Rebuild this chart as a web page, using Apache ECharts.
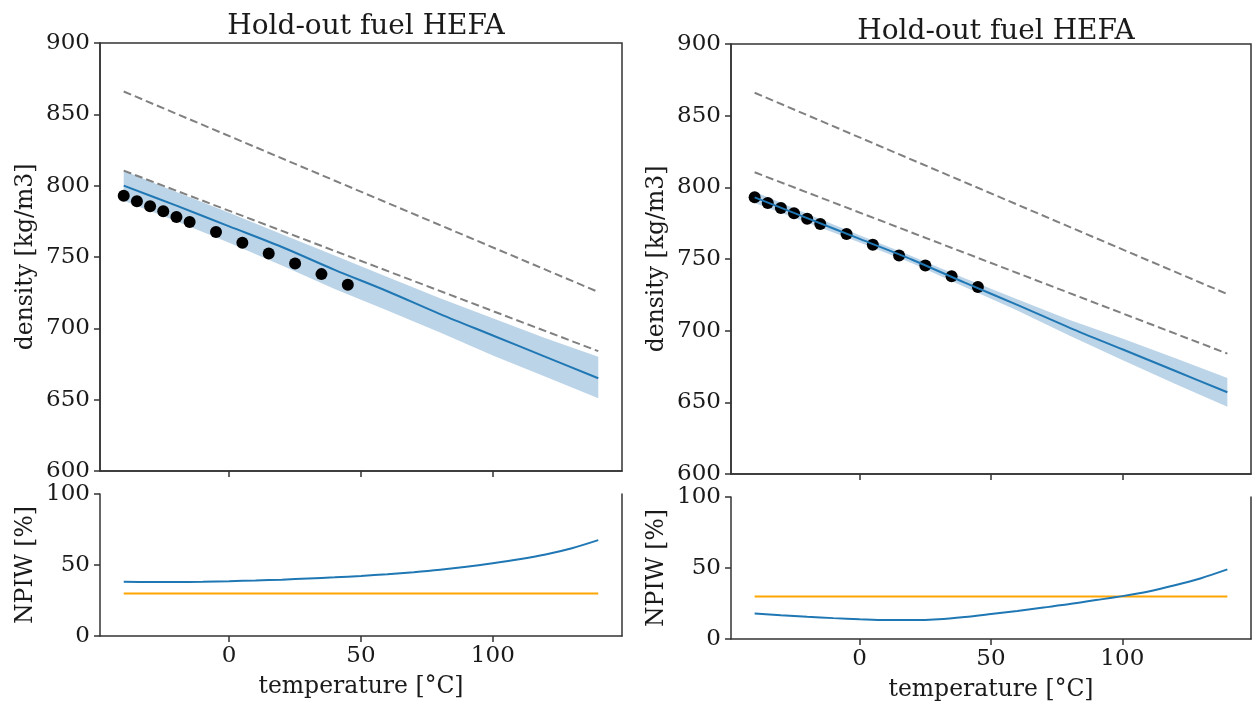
<!DOCTYPE html>
<html>
<head>
<meta charset="utf-8">
<script src="https://cdn.jsdelivr.net/npm/echarts@6/dist/echarts.min.js"></script>
<style>
  html, body { margin: 0; padding: 0; background: #ffffff; }
  #chart { width: 1255px; height: 704px; }
</style>
</head>
<body>
<div id="chart"></div>
<script>
// ---------------- data ----------------
const titleText = 'Hold-out fuel HEFA';
const xTicks = [0, 50, 100];

// measured points (same in both panels)
const measTemps = [-40, -35, -30, -25, -20, -15, -5, 5, 15, 25, 35, 45];
const measDensity = [793, 789, 785.5, 782, 778, 774.5, 767.5, 760, 752.5, 745.5, 738, 730.5];

// reference (dashed) lines
const refTemps = [-40, 140];
const refUpper = [866, 725.5];
const refLower = [810.5, 684];

// prediction curves
const predTemps = [-40, -20, 0, 20, 40, 60, 80, 100, 120, 140];
const leftPred  = [800, 786, 771.5, 757, 741, 726, 710, 695, 680, 665];
const leftUpper = [810.5, 795.5, 781, 766, 751, 736, 721, 707, 693, 680];
const leftLower = [789.5, 775, 760, 744, 727.5, 712.5, 697, 681, 666, 651];

const rightPred  = [793, 778.5, 764, 749.5, 733.5, 718, 702, 687, 672, 657];
const rightUpper = [797, 781.5, 766.5, 752, 736.5, 722, 707.5, 694.5, 681, 667];
const rightLower = [789, 775.5, 761.5, 747, 730.5, 714, 696.5, 679.5, 663, 647];

// NPIW
const npiwTemps = [-40, -30, -20, -10, 0, 10, 20, 30, 40, 50, 60, 70, 80, 90, 100, 110, 120, 130, 140];
const leftNpiw  = [38.2, 38.0, 38.0, 38.2, 38.6, 39.1, 39.7, 40.5, 41.3, 42.3, 43.5, 44.9, 46.6, 48.7, 51.2, 54.0, 57.4, 61.8, 67.5];
const rightNpiw = [18.0, 16.8, 15.7, 14.7, 13.9, 13.3, 13.3, 13.9, 15.5, 17.6, 19.8, 22.2, 24.6, 27.4, 30.2, 33.5, 37.8, 42.8, 49.0];
const targetTemps = [-40, 140];
const targetNpiw = [30, 30];

// ---------------- helpers ----------------
const zip = (xs, ys) => xs.map((x, i) => [x, ys[i]]);
const FONT = 'DejaVu Serif';
const TXT = '#1a1a1a';
const AX = '#333333';
const BLUE = '#1f77b4';
const BAND = '#bcd4e8';
const TICKFS = 23;
const NAMEFS = 23.5;

function xAxisDef(gridIndex, withLabels) {
  return {
    type: 'value', gridIndex, min: -49, max: 149,
    splitLine: { show: false },
    axisLine: { show: true, onZero: false, lineStyle: { color: AX, width: 1.5 } },
    axisTick: { show: true, inside: false, length: 6, customValues: xTicks, lineStyle: { color: AX, width: 1.5 } },
    axisLabel: { show: withLabels, customValues: xTicks, margin: 9, fontFamily: FONT, fontSize: TICKFS, color: TXT },
    name: withLabels ? 'temperature [°C]' : '',
    nameLocation: 'middle', nameGap: 39,
    nameTextStyle: { fontFamily: FONT, fontSize: NAMEFS, color: TXT }
  };
}
function yAxisDef(gridIndex, min, max, interval, name) {
  return {
    type: 'value', gridIndex, min, max, interval,
    splitLine: { show: false },
    axisLine: { show: true, onZero: false, lineStyle: { color: AX, width: 1.5 } },
    axisTick: { show: true, inside: false, length: 6, lineStyle: { color: AX, width: 1.5 } },
    axisLabel: { margin: 10, fontFamily: FONT, fontSize: TICKFS, color: TXT },
    name, nameLocation: 'middle', nameGap: 62, nameRotate: 90,
    nameTextStyle: { fontFamily: FONT, fontSize: NAMEFS, color: TXT }
  };
}
function rightSpine(gridIndex) {
  return {
    type: 'value', gridIndex, position: 'right', min: 0, max: 100,
    splitLine: { show: false },
    axisLine: { show: true, onZero: false, lineStyle: { color: AX, width: 1.5 } },
    axisTick: { show: false }, axisLabel: { show: false }
  };
}

function bandSeries(xi, yi, upper, lower) {
  const data = predTemps.map((t, i) => [t, lower[i], upper[i]]);
  return {
    type: 'custom', xAxisIndex: xi, yAxisIndex: yi, data, silent: true, z: 1,
    renderItem: function (params, api) {
      if (params.dataIndex !== 0) return null;
      const pts = [];
      for (let i = 0; i < data.length; i++) pts.push(api.coord([data[i][0], data[i][2]]));
      for (let i = data.length - 1; i >= 0; i--) pts.push(api.coord([data[i][0], data[i][1]]));
      return { type: 'polygon', shape: { points: pts }, style: { fill: BAND, stroke: null } };
    }
  };
}

function densitySeries(xi, yi, pred, upper, lower) {
  return [
    bandSeries(xi, yi, upper, lower),
    { type: 'line', xAxisIndex: xi, yAxisIndex: yi, data: zip(refTemps, refUpper), symbol: 'none',
      lineStyle: { color: '#808080', width: 2, type: [8, 4] }, z: 2 },
    { type: 'line', xAxisIndex: xi, yAxisIndex: yi, data: zip(refTemps, refLower), symbol: 'none',
      lineStyle: { color: '#808080', width: 2, type: [8, 4] }, z: 2 },
    { type: 'scatter', xAxisIndex: xi, yAxisIndex: yi, data: zip(measTemps, measDensity), symbolSize: 12,
      itemStyle: { color: '#000000', opacity: 1 }, z: 3 },
    { type: 'line', xAxisIndex: xi, yAxisIndex: yi, data: zip(predTemps, pred), symbol: 'none', smooth: 0.3,
      lineStyle: { color: BLUE, width: 2 }, z: 4 }
  ];
}
function npiwSeries(xi, yi, npiw) {
  return [
    { type: 'line', xAxisIndex: xi, yAxisIndex: yi, data: zip(targetTemps, targetNpiw), symbol: 'none',
      lineStyle: { color: '#ffa500', width: 2 }, z: 2 },
    { type: 'line', xAxisIndex: xi, yAxisIndex: yi, data: zip(npiwTemps, npiw), symbol: 'none', smooth: 0.3,
      lineStyle: { color: BLUE, width: 2 }, z: 3 }
  ];
}

const chart = echarts.init(document.getElementById('chart'), null, { renderer: 'canvas' });
const option = {
  backgroundColor: '#ffffff',
  animation: false,
  title: [
    { text: titleText, left: 361, top: 8, textAlign: 'center',
      textStyle: { fontFamily: FONT, fontSize: 28, fontWeight: 'normal', color: TXT } },
    { text: titleText, left: 991, top: 13, textAlign: 'center',
      textStyle: { fontFamily: FONT, fontSize: 28, fontWeight: 'normal', color: TXT } }
  ],
  grid: [
    { left: 100, top: 43, width: 522, height: 428, show: true, borderColor: AX, borderWidth: 1.5, backgroundColor: 'transparent' },
    { left: 100, top: 494, width: 522, height: 142 },
    { left: 731, top: 44, width: 520, height: 430, show: true, borderColor: AX, borderWidth: 1.5, backgroundColor: 'transparent' },
    { left: 731, top: 497, width: 520, height: 142 }
  ],
  xAxis: [ xAxisDef(0, false), xAxisDef(1, true), xAxisDef(2, false), xAxisDef(3, true) ],
  yAxis: [
    yAxisDef(0, 600, 900, 50, 'density [kg/m3]'),
    yAxisDef(1, 0, 100, 50, 'NPIW [%]'),
    yAxisDef(2, 600, 900, 50, 'density [kg/m3]'),
    yAxisDef(3, 0, 100, 50, 'NPIW [%]'),
    rightSpine(1),
    rightSpine(3)
  ],
  series: [
    ...densitySeries(0, 0, leftPred, leftUpper, leftLower),
    ...npiwSeries(1, 1, leftNpiw),
    ...densitySeries(2, 2, rightPred, rightUpper, rightLower),
    ...npiwSeries(3, 3, rightNpiw)
  ]
};
chart.setOption(option);
</script>
</body>
</html>
